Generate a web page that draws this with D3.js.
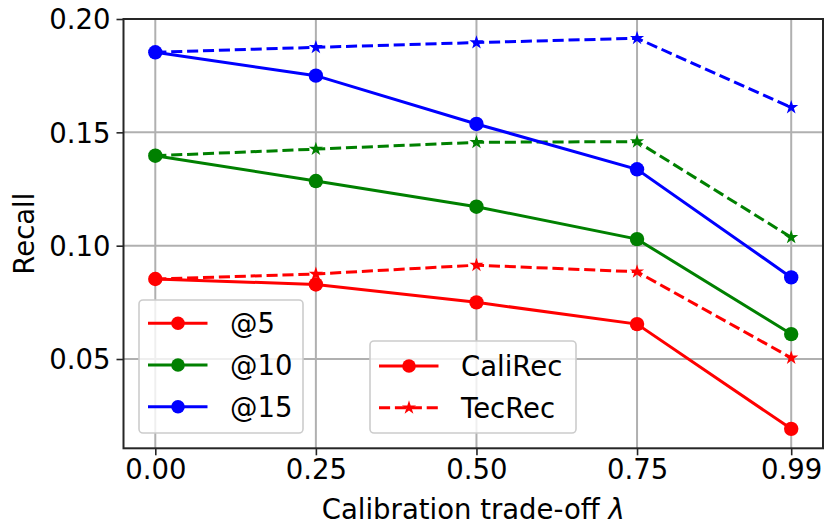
<!DOCTYPE html>
<html>
<head>
<meta charset="utf-8">
<script src="https://cdn.jsdelivr.net/npm/d3@7"></script>
<style>
  html, body { margin: 0; padding: 0; background: #fff; }
  svg { display: block; font-family: "DejaVu Sans", sans-serif; }
</style>
</head>
<body>
<svg id="chart" width="825" height="529"></svg>
<script>
// Calibration trade-off values on the x axis
const lambdas = [0.00, 0.25, 0.50, 0.75, 0.99];
const xTicks = [0.00, 0.25, 0.50, 0.75, 0.99];
const yTicks = [0.05, 0.10, 0.15, 0.20];

// Recall@K for each method
const caliRec5  = [0.0853, 0.0829, 0.0750, 0.0654, 0.0192];
const caliRec10 = [0.1397, 0.1285, 0.1172, 0.1029, 0.0610];
const caliRec15 = [0.1853, 0.1750, 0.1537, 0.1337, 0.0860];
const tecRec5   = [0.0853, 0.0875, 0.0914, 0.0885, 0.0505];
const tecRec10  = [0.1397, 0.1426, 0.1456, 0.1459, 0.1037];
const tecRec15  = [0.1853, 0.1875, 0.1896, 0.1915, 0.1610];

const kLabels = ["@5", "@10", "@15"];
const kColors = ["#ff0000", "#008000", "#0000ff"];
const methods = ["CaliRec", "TecRec"];

const svg = d3.select("#chart");
const m = { left: 123.5, top: 19, right: 2, bottom: 80.7 };
const W = 825, H = 529;
const x = d3.scaleLinear().domain([-0.0495, 1.0395]).range([m.left, W - m.right]);
const y = d3.scaleLinear().domain([0.01061, 0.20]).range([H - m.bottom, m.top]);
const FS = 27.5;

// grid
const g = svg.append("g");
g.selectAll(".gx").data(xTicks).join("line")
  .attr("x1", d => x(d)).attr("x2", d => x(d))
  .attr("y1", m.top).attr("y2", H - m.bottom)
  .attr("stroke", "#b0b0b0").attr("stroke-width", 2);
g.selectAll(".gy").data(yTicks).join("line")
  .attr("y1", d => y(d)).attr("y2", d => y(d))
  .attr("x1", m.left).attr("x2", W - m.right)
  .attr("stroke", "#b0b0b0").attr("stroke-width", 2);

// series
const seriesList = [
  { vals: tecRec5,   color: kColors[0], dashed: true },
  { vals: tecRec10,  color: kColors[1], dashed: true },
  { vals: tecRec15,  color: kColors[2], dashed: true },
  { vals: caliRec5,  color: kColors[0], dashed: false },
  { vals: caliRec10, color: kColors[1], dashed: false },
  { vals: caliRec15, color: kColors[2], dashed: false }
];
const line = d3.line().x((d, i) => x(lambdas[i])).y(d => y(d));
const star = d3.symbol().type(d3.symbolStar).size(62);

seriesList.forEach(s => {
  const sg = svg.append("g");
  sg.append("path").attr("d", line(s.vals))
    .attr("fill", "none").attr("stroke", s.color).attr("stroke-width", 3)
    .attr("stroke-dasharray", s.dashed ? "11.1,4.8" : null);
  if (s.dashed) {
    sg.selectAll("path.m").data(s.vals).join("path").attr("class", "m")
      .attr("d", star)
      .attr("transform", (d, i) => `translate(${x(lambdas[i])},${y(d)})`)
      .attr("fill", s.color);
  } else {
    sg.selectAll("circle").data(s.vals).join("circle")
      .attr("cx", (d, i) => x(lambdas[i])).attr("cy", d => y(d))
      .attr("r", 7.2).attr("fill", s.color);
  }
});

// axes frame
svg.append("rect").attr("x", m.left).attr("y", m.top)
  .attr("width", W - m.right - m.left).attr("height", H - m.bottom - m.top)
  .attr("fill", "none").attr("stroke", "#262626").attr("stroke-width", 2);

const xAxis = svg.append("g").attr("transform", `translate(0,${H - m.bottom})`)
  .call(d3.axisBottom(x).tickValues(xTicks).tickFormat(d3.format(".2f")).tickSize(7).tickPadding(4));
const yAxis = svg.append("g").attr("transform", `translate(${m.left},0)`)
  .call(d3.axisLeft(y).tickValues(yTicks).tickFormat(d3.format(".2f")).tickSize(7).tickPadding(6));
[xAxis, yAxis].forEach(a => {
  a.select(".domain").remove();
  a.selectAll(".tick line").attr("stroke", "#262626").attr("stroke-width", 1.6);
  a.selectAll(".tick text").attr("font-size", FS).attr("fill", "#000")
    .attr("font-family", "DejaVu Sans");
});
yAxis.selectAll(".tick text").attr("dy", "0.36em");

// axis titles
const xt = svg.append("text").attr("x", (m.left + W - m.right) / 2).attr("y", 519)
  .attr("text-anchor", "middle").attr("font-size", FS).attr("fill", "#000");
xt.append("tspan").text("Calibration trade-off ");
xt.append("tspan").attr("font-style", "italic").text("λ");

svg.append("text").attr("transform", `translate(34,${(m.top + H - m.bottom) / 2}) rotate(-90)`)
  .attr("text-anchor", "middle").attr("font-size", FS).attr("fill", "#000").text("Recall");

// legends
function legend(x0, y0, w, h, rows) {
  const lg = svg.append("g");
  lg.append("rect").attr("x", x0).attr("y", y0).attr("width", w).attr("height", h)
    .attr("rx", 4).attr("fill", "#fff").attr("fill-opacity", 0.8)
    .attr("stroke", "#cccccc").attr("stroke-width", 1.6);
  rows.forEach((r, i) => {
    const cy = r.y;
    lg.append("line").attr("x1", x0 + 9).attr("x2", x0 + 68.5).attr("y1", cy).attr("y2", cy)
      .attr("stroke", r.color).attr("stroke-width", 3)
      .attr("stroke-dasharray", r.dashed ? "11.1,4.8" : null);
    if (r.dashed) {
      lg.append("path").attr("d", star).attr("transform", `translate(${x0 + 39},${cy})`).attr("fill", r.color);
    } else {
      lg.append("circle").attr("cx", x0 + 39).attr("cy", cy).attr("r", 6.8).attr("fill", r.color);
    }
    lg.append("text").attr("x", x0 + 91).attr("y", cy).attr("dy", "0.36em")
      .attr("font-size", FS).attr("fill", "#000").text(r.label);
  });
}
legend(139, 300, 164, 133, kLabels.map((l, i) => ({ label: l, color: kColors[i], dashed: false, y: 323.3 + i * 41.7 })));
legend(370, 341, 206, 92, methods.map((l, i) => ({ label: l, color: kColors[0], dashed: i === 1, y: 366 + i * 41.7 })));
</script>
</body>
</html>
